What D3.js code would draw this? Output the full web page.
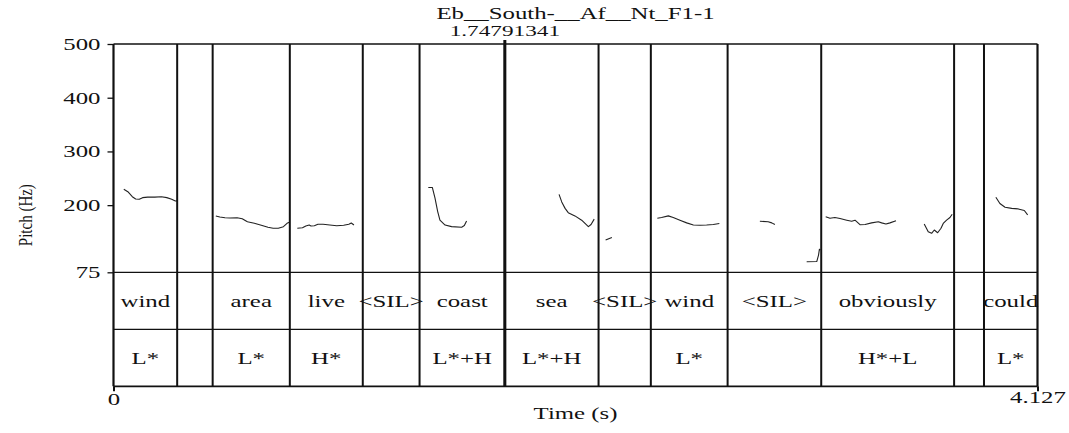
<!DOCTYPE html>
<html>
<head>
<meta charset="utf-8">
<script src="https://cdn.jsdelivr.net/npm/d3@7"></script>
<style>
  html, body { margin: 0; padding: 0; background: #fff; }
  svg text { font-family: "Liberation Serif", "Times New Roman", serif; fill: #111; }
</style>
</head>
<body>
<svg id="chart" width="1069" height="433"></svg>
<script>
// Recording name and cursor
const fileName = "Eb__South-__Af__Nt_F1-1";
const cursorTime = 1.74791341;
const totalTime = 4.127;

// Interval tiers: boundaries (s) and labels
const boundaries = [0.2844, 0.4429, 0.7875, 1.1134, 1.3670, 1.7479, 2.1665, 2.4000, 2.7429, 3.1610, 3.7545, 3.8880];
const words = ["wind", "", "area", "live", "<SIL>", "coast", "sea", "<SIL>", "wind", "<SIL>", "obviously", "", "could"];
const tones = ["L*", "", "L*", "H*", "", "L*+H", "L*+H", "", "L*", "", "H*+L", "", "L*"];

// Pitch axis
const pitchTicks = [75, 200, 300, 400, 500];
const timeTicks = [0, 4.127];

// Pitch contour pieces: [time (s), F0 (Hz)]
const pitchWind1 = [[0.046,229.5],[0.064,225],[0.084,215.7],[0.099,211.4],[0.115,211],[0.130,214],[0.153,215],[0.184,215],[0.214,215.7],[0.238,214],[0.260,211],[0.276,207.7],[0.2836,208]];
const pitchArea = [[0.457,179.8],[0.475,177.9],[0.498,176.6],[0.521,176.1],[0.552,176.6],[0.575,174.8],[0.598,169.2],[0.629,166.2],[0.660,162.5],[0.690,158.8],[0.713,157],[0.736,157],[0.759,159.9],[0.775,166.2],[0.788,168.6]];
const pitchLive = [[0.821,156.9],[0.844,158],[0.859,161.2],[0.874,163],[0.882,161.2],[0.897,161.7],[0.913,164.4],[0.936,164.4],[0.966,163],[0.997,161.7],[1.028,162.5],[1.051,164.4],[1.062,166.8],[1.074,163]];
const pitchCoast = [[1.406,233],[1.424,233],[1.436,213],[1.448,188],[1.458,172],[1.481,163],[1.510,160],[1.555,159],[1.567,162],[1.577,170.5]];
const pitchSea = [[1.990,220],[2.002,206],[2.017,194],[2.031,186],[2.061,180],[2.091,172],[2.121,160],[2.133,164],[2.147,174]];
const pitchSil1 = [[2.198,135],[2.226,140]];
const pitchWind2 = [[2.429,175.5],[2.448,177],[2.478,180],[2.500,177],[2.530,172],[2.560,167],[2.590,163],[2.619,162.5],[2.649,163],[2.679,164],[2.706,166]];
const pitchSil2 = [[2.887,170],[2.924,169],[2.940,167],[2.954,164]];
const pitchSil3 = [[3.096,94.7],[3.141,95],[3.149,107],[3.153,118],[3.157,116.5]];
const pitchObv1 = [[3.181,178.5],[3.200,175.5],[3.222,177],[3.245,175],[3.275,172],[3.297,170],[3.312,172],[3.334,163.6],[3.357,164],[3.386,167],[3.416,169],[3.431,167],[3.450,165],[3.468,167],[3.495,171]];
const pitchObv2 = [[3.621,165],[3.639,150.6],[3.654,147.6],[3.666,153.7],[3.681,148.7],[3.696,157],[3.706,166],[3.721,172],[3.736,177],[3.746,183]];
const pitchCould = [[3.941,214.6],[3.959,203],[3.982,196],[4.012,194],[4.041,193],[4.068,190],[4.083,182]];
const pitchPieces = [pitchWind1, pitchArea, pitchLive, pitchCoast, pitchSea, pitchSil1, pitchWind2, pitchSil2, pitchSil3, pitchObv1, pitchObv2, pitchCould];

// Layout
const plotLeft = 113.5, plotRight = 1037.5;
const plotTop = 44, pitchBottom = 272.3, tierH = 57;
const tier1Bottom = pitchBottom + tierH, tier2Bottom = tier1Bottom + tierH;
const SX = 1.55;      // horizontal glyph stretch of the lettering
const FS = 16;
const TIER_FS = 17.5, TIER_SX = 1.42;

const svg = d3.select("#chart");
const x = d3.scaleLinear().domain([0, totalTime]).range([plotLeft, plotRight]);
const y = d3.scaleLinear().domain([75, 500]).range([pitchBottom, plotTop]);

function label(g, px, py, txt, size, sx) {
  return g.append("text")
    .attr("transform", `translate(${px},${py}) scale(${sx || SX},1)`)
    .attr("text-anchor", "middle")
    .style("font-size", (size || FS) + "px")
    .text(txt);
}

// Pitch contour
const line = d3.line().x(d => x(d[0])).y(d => y(d[1]));
svg.append("g").selectAll("path").data(pitchPieces).join("path")
  .attr("d", line)
  .attr("fill", "none")
  .attr("stroke", "#222")
  .attr("stroke-width", 1.1)
  .attr("stroke-linejoin", "round");

// Horizontal tier separators
const hl = svg.append("g").attr("stroke", "#111");
hl.append("line").attr("x1", plotLeft).attr("x2", plotRight).attr("y1", pitchBottom).attr("y2", pitchBottom).attr("stroke-width", 1.2);
hl.append("line").attr("x1", plotLeft).attr("x2", plotRight).attr("y1", tier1Bottom).attr("y2", tier1Bottom).attr("stroke-width", 1.2);

// Interval boundaries, drawn through all panels
svg.append("g").selectAll("line").data(boundaries).join("line")
  .attr("x1", d => x(d)).attr("x2", d => x(d))
  .attr("y1", plotTop).attr("y2", tier2Bottom)
  .attr("stroke", "#111").attr("stroke-width", 2);

// Frame
const fr = svg.append("g").attr("stroke", "#111").attr("fill", "none");
fr.append("line").attr("x1", plotLeft).attr("x2", plotRight).attr("y1", plotTop).attr("y2", plotTop).attr("stroke-width", 1.5);
fr.append("line").attr("x1", plotLeft).attr("x2", plotRight).attr("y1", tier2Bottom).attr("y2", tier2Bottom).attr("stroke-width", 1.8);
fr.append("line").attr("x1", plotLeft).attr("x2", plotLeft).attr("y1", plotTop).attr("y2", tier2Bottom).attr("stroke-width", 2.2);
fr.append("line").attr("x1", plotRight).attr("x2", plotRight).attr("y1", plotTop).attr("y2", tier2Bottom).attr("stroke-width", 2.2);

// Cursor
svg.append("line")
  .attr("x1", x(cursorTime)).attr("x2", x(cursorTime))
  .attr("y1", plotTop - 4).attr("y2", tier2Bottom)
  .attr("stroke", "#111").attr("stroke-width", 3);

// Pitch axis
const yAxis = d3.axisLeft(y).tickValues(pitchTicks).tickSize(6).tickPadding(0).tickFormat(d3.format("d"));
const ya = svg.append("g").attr("transform", `translate(${plotLeft},0)`).call(yAxis);
ya.select(".domain").remove();
ya.selectAll(".tick line").attr("stroke", "#111").attr("stroke-width", 1.3);
ya.selectAll(".tick text")
  .attr("x", null).attr("dy", null)
  .attr("transform", `translate(-13,5.5) scale(${SX},1)`)
  .attr("text-anchor", "end")
  .style("font-size", FS + "px")
  .style("font-family", '"Liberation Serif", "Times New Roman", serif')
  .attr("fill", "#111");

// Time axis (end points only)
const xAxis = d3.axisBottom(x).tickValues(timeTicks).tickSize(5).tickFormat(d => d === 0 ? "0" : "4.127");
const xa = svg.append("g").attr("transform", `translate(0,${tier2Bottom})`).call(xAxis);
xa.select(".domain").remove();
xa.selectAll(".tick line").attr("stroke", "#111").attr("stroke-width", 2);
xa.selectAll(".tick text")
  .attr("y", null).attr("dy", null)
  .attr("transform", (d, i) => `translate(0,${i === 0 ? 19 : 17}) scale(${SX},1)`)
  .attr("text-anchor", "middle")
  .style("font-size", FS + "px")
  .style("font-family", '"Liberation Serif", "Times New Roman", serif')
  .attr("fill", "#111");

// Tier labels
const edges = [0].concat(boundaries, [totalTime]);
const tl = svg.append("g");
words.forEach((w, i) => {
  if (w) label(tl, x((edges[i] + edges[i + 1]) / 2), (pitchBottom + tier1Bottom) / 2 + 6, w, TIER_FS, TIER_SX);
});
tones.forEach((t, i) => {
  if (t) label(tl, x((edges[i] + edges[i + 1]) / 2), (tier1Bottom + tier2Bottom) / 2 + 6, t, TIER_FS, TIER_SX);
});

// Titles
label(svg, (plotLeft + plotRight) / 2, 18.5, fileName);
label(svg, x(cursorTime), 36, cursorTime.toFixed(8), 15);
label(svg, (plotLeft + plotRight) / 2, 419, "Time (s)");

// Y-axis title
svg.append("text")
  .attr("transform", `translate(32,${(plotTop + tier2Bottom) / 2}) scale(1.25,1) rotate(-90)`)
  .attr("text-anchor", "middle")
  .style("font-size", "15px")
  .text("Pitch (Hz)");
</script>
</body>
</html>
